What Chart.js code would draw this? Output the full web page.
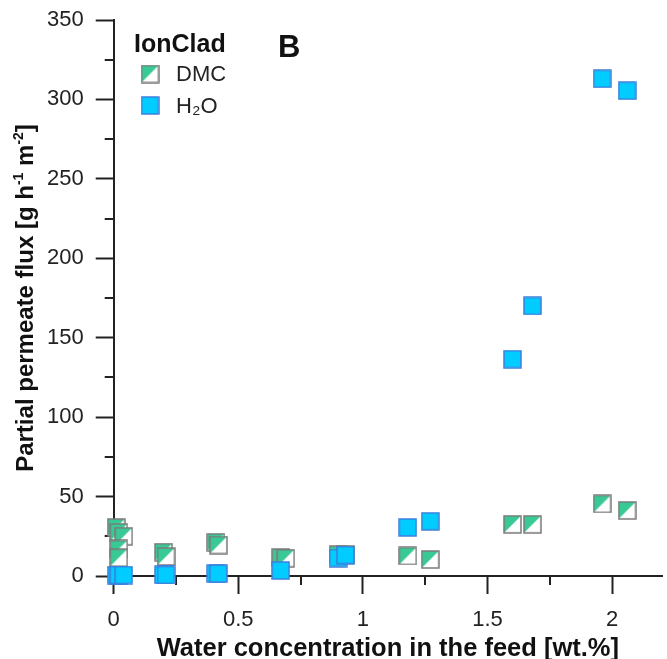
<!DOCTYPE html>
<html>
<head>
<meta charset="utf-8">
<title>IonClad partial permeate flux</title>
<script src="https://cdn.jsdelivr.net/npm/chart.js@4.4.0/dist/chart.umd.min.js"></script>
<style>
    html, body { margin: 0; padding: 0; background: #fff; }
    #wrap { width: 667px; height: 659px; }
</style>
</head>
<body>
<div id="wrap"><canvas id="fluxChart" width="667" height="659"></canvas></div>
<script>
// --- Data ---
const dmcX = [0.01, 0.02, 0.04, 0.02, 0.02, 0.20, 0.21, 0.41, 0.42, 0.67, 0.69, 0.90, 0.93, 1.18, 1.27, 1.60, 1.68, 1.96, 2.06];
const dmcY = [30.5, 27.5, 25.0, 17.0, 11.5, 15.0, 12.3, 21.2, 19.5, 11.7, 11.2, 13.5, 13.5, 12.6, 10.4, 32.5, 32.5, 45.4, 41.3];

const h2oX = [0.01, 0.02, 0.04, 0.20, 0.21, 0.41, 0.42, 0.67, 0.90, 0.93, 1.18, 1.27, 1.60, 1.68, 1.96, 2.06];
const h2oY = [0.6, 0.6, 0.6, 0.7, 0.7, 1.5, 1.5, 3.5, 11.3, 13.2, 30.6, 34.4, 136.5, 170.0, 313.0, 305.5];

const seriesLabels = ['DMC', 'H₂O'];
const legendTitle = 'IonClad';
const panelLetter = 'B';

const xMajorTicks = [0, 0.5, 1, 1.5, 2];
const xMinorTicks = [0.25, 0.75, 1.25, 1.75];
const yMajorTicks = [0, 50, 100, 150, 200, 250, 300, 350];
const yMinorTicks = [25, 75, 125, 175, 225, 275, 325];

const xTitle = 'Water concentration in the feed [wt.%]';
// y title pieces: [text, isSuperscript]
const yTitleParts = [['Partial permeate flux [g h', false], ['-1', true], [' m', false], ['-2', true], [']', false]];

// --- Styling ---
const FONT = "'Liberation Sans', Arial, Helvetica, sans-serif";
const AXIS_COLOR = '#222';
const DMC_GREEN = '#38c995';
const H2O_CYAN = '#00ccff';

Chart.defaults.font.family = FONT;
Chart.defaults.color = AXIS_COLOR;

// --- Marker images ---
const makeDmcMarker = () => {
    const c = document.createElement('canvas');
    c.width = 19; c.height = 19;
    const g = c.getContext('2d');
    g.fillStyle = '#fff';
    g.fillRect(1, 1, 17, 17);
    g.beginPath();
    g.moveTo(1, 1); g.lineTo(18, 1); g.lineTo(1, 18);
    g.closePath();
    g.fillStyle = DMC_GREEN;
    g.fill();
    g.strokeStyle = '#7b7b7b';
    g.lineWidth = 1.5;
    g.strokeRect(1, 1, 17, 17);
    return c;
};

const makeH2oMarker = () => {
    const c = document.createElement('canvas');
    c.width = 19; c.height = 19;
    const g = c.getContext('2d');
    g.fillStyle = H2O_CYAN;
    g.fillRect(1, 1, 17, 17);
    g.strokeStyle = '#3d7fdc';
    g.lineWidth = 1.5;
    g.strokeRect(1, 1, 17, 17);
    return c;
};

const dmcMarker = makeDmcMarker();
const h2oMarker = makeH2oMarker();

const toPoints = (xs, ys) => xs.map((x, i) => ({ x, y: ys[i] }));

// --- Plugins ---
const minorTicksPlugin = {
    id: 'minorTicks',
    beforeDatasetsDraw(chart) {
        const { ctx, scales: { x, y } } = chart;
        ctx.save();
        ctx.strokeStyle = AXIS_COLOR;
        ctx.lineWidth = 2;
        xMinorTicks.forEach(v => {
            const px = Math.round(x.getPixelForValue(v));
            ctx.beginPath();
            ctx.moveTo(px, x.top);
            ctx.lineTo(px, x.top + 9);
            ctx.stroke();
        });
        yMinorTicks.forEach(v => {
            const py = Math.round(y.getPixelForValue(v));
            ctx.beginPath();
            ctx.moveTo(y.right, py);
            ctx.lineTo(y.right - 9, py);
            ctx.stroke();
        });
        ctx.restore();
    }
};

// y title with real superscripts (Chart.js titles can't mix sizes)
const yTitlePlugin = {
    id: 'yTitle',
    afterDraw(chart) {
        const { ctx, chartArea } = chart;
        const mainFont = `bold 24px ${FONT}`;
        const supFont = `bold 14px ${FONT}`;
        ctx.save();
        const widths = yTitleParts.map(([t, sup]) => {
            ctx.font = sup ? supFont : mainFont;
            return ctx.measureText(t).width;
        });
        const total = widths.reduce((a, b) => a + b, 0);
        ctx.translate(26, (chartArea.top + chartArea.bottom) / 2);
        ctx.rotate(-Math.PI / 2);
        ctx.fillStyle = '#111';
        ctx.textBaseline = 'middle';
        ctx.textAlign = 'left';
        let cx = -total / 2;
        yTitleParts.forEach(([t, sup], i) => {
            ctx.font = sup ? supFont : mainFont;
            ctx.fillText(t, cx, sup ? -7 : 0);
            cx += widths[i];
        });
        ctx.restore();
    }
};

const legendPlugin = {
    id: 'insetLegend',
    afterDraw(chart) {
        const { ctx } = chart;
        ctx.save();
        ctx.fillStyle = '#111';
        ctx.textBaseline = 'alphabetic';
        ctx.textAlign = 'left';
        ctx.font = `bold 25px ${FONT}`;
        ctx.fillText(legendTitle, 134, 52);

        ctx.font = `bold 31px ${FONT}`;
        ctx.fillText(panelLetter, 278, 57);

        ctx.font = `22px ${FONT}`;
        ctx.textBaseline = 'middle';
        chart.data.datasets.forEach((ds, i) => {
            const cy = 74 + i * 31.5;
            const img = ds.pointStyle;
            ctx.drawImage(img, 150 - img.width / 2, cy - img.height / 2);
            ctx.fillStyle = '#222';
            ctx.fillText(ds.label, 176, cy + 1);
        });
        ctx.restore();
    }
};

// --- Chart ---
const ctx = document.getElementById('fluxChart').getContext('2d');
const fluxChart = new Chart(ctx, {
    type: 'scatter',
    data: {
        datasets: [
            {
                label: seriesLabels[0],
                data: toPoints(dmcX, dmcY),
                pointStyle: dmcMarker,
                order: 1,
                clip: false
            },
            {
                label: seriesLabels[1],
                data: toPoints(h2oX, h2oY),
                pointStyle: h2oMarker,
                order: 0,
                clip: false
            }
        ]
    },
    options: {
        responsive: false,
        animation: false,
        devicePixelRatio: 1,
        layout: { padding: { top: 20, right: 0, bottom: 0, left: 35 } },
        plugins: {
            legend: { display: false },
            tooltip: { enabled: false }
        },
        scales: {
            x: {
                type: 'linear',
                position: 'bottom',
                min: 0,
                max: 2.2,
                afterBuildTicks: (scale) => { scale.ticks = xMajorTicks.map(v => ({ value: v })); },
                border: { display: true, color: AXIS_COLOR, width: 2 },
                grid: { drawOnChartArea: false, drawTicks: true, tickLength: 18, tickColor: AXIS_COLOR, tickWidth: 2 },
                ticks: {
                    font: { size: 22 },
                    color: AXIS_COLOR,
                    padding: 12.5,
                    maxRotation: 0,
                    callback: (v) => String(v)
                },
                title: {
                    display: true,
                    text: xTitle,
                    color: '#111',
                    font: { size: 25.5, weight: 'bold' },
                    padding: { top: -12, bottom: -5 }
                }
            },
            y: {
                type: 'linear',
                position: 'left',
                min: 0,
                max: 350,
                afterBuildTicks: (scale) => { scale.ticks = yMajorTicks.map(v => ({ value: v })); },
                // let the top of the axis sit on the layout padding, not the label overflow
                afterFit: (scale) => { scale.paddingTop = 0; scale.paddingBottom = 0; },
                border: { display: true, color: AXIS_COLOR, width: 2 },
                grid: { drawOnChartArea: false, drawTicks: true, tickLength: 18, tickColor: AXIS_COLOR, tickWidth: 2 },
                ticks: {
                    font: { size: 22 },
                    color: AXIS_COLOR,
                    padding: 12,
                    callback: (v) => String(v)
                },
                title: { display: false }
            }
        }
    },
    plugins: [minorTicksPlugin, yTitlePlugin, legendPlugin]
});
</script>
</body>
</html>
